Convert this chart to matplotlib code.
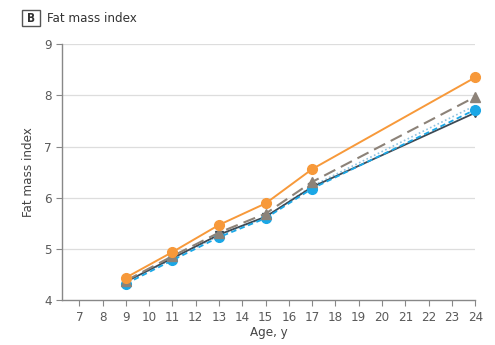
import numpy as np
import matplotlib.pyplot as plt
from matplotlib.patches import Rectangle

plt.rcParams['font.family'] = ['DejaVu Sans']
plt.rcParams['font.stretch'] = 'condensed'

ages = [9, 11, 13, 15, 17, 24]
fmi_orange = [4.44, 4.94, 5.47, 5.89, 6.56, 8.35]
fmi_gray = [4.38, 4.86, 5.32, 5.69, 6.31, 7.97]
fmi_dotted = [4.35, 4.80, 5.26, 5.62, 6.23, 7.80]
fmi_dark = [4.36, 4.82, 5.28, 5.63, 6.21, 7.66]
fmi_blue = [4.32, 4.78, 5.23, 5.60, 6.18, 7.72]

xticks = list(range(7, 25))
yticks = [4, 5, 6, 7, 8, 9]

fig = plt.figure(figsize=(4.95, 3.45), dpi=100)
ax = fig.add_axes([0.125, 0.13, 0.835, 0.742])

ax.plot(ages, fmi_dotted, color='#8fc3e0', lw=1.2, ls=(0, (1, 1.5)), zorder=3, clip_on=False)
ax.plot(ages, fmi_dark, color='#3d4a55', lw=1.3, marker='v', ms=6, zorder=3, clip_on=False)
ax.plot(ages, fmi_blue, color='#1aa7e6', lw=1.3, ls=(0, (3, 2)), marker='o', ms=7, zorder=4, clip_on=False)
ax.plot(ages, fmi_gray, color='#8c8278', lw=1.5, ls=(0, (6, 3)), marker='^', ms=7, zorder=5, clip_on=False)
ax.plot(ages, fmi_orange, color='#f7993a', lw=1.4, marker='o', ms=7, zorder=6, clip_on=False)

ax.set_xlim(6.25, 24)
ax.set_ylim(4, 9)
ax.set_xticks(xticks)
ax.set_yticks(yticks)
for y in yticks[1:]:
    ax.plot([6.25, 24], [y, y], color='#dddddd', lw=0.9, zorder=1)

for s in ['top', 'right']:
    ax.spines[s].set_visible(False)
for s in ['left', 'bottom']:
    ax.spines[s].set_color('#888888')
    ax.spines[s].set_linewidth(1.0)
ax.tick_params(labelsize=9.5, length=4, width=0.8, direction='out',
               colors='#888888', labelcolor='#5a5a5a')

ax.set_xlabel('Age, y', fontsize=9.5, color='#444444', labelpad=2)
ax.set_ylabel('Fat mass index', fontsize=9.5, color='#444444', labelpad=6)

fig.patches.append(Rectangle((22 / 495, 1 - 26 / 345), 18 / 495, 16 / 345,
                             transform=fig.transFigure, fill=False,
                             edgecolor='#555555', lw=1.0))
fig.text(31 / 495, 1 - 18 / 345, 'B', ha='center', va='center',
         fontsize=8.5, fontweight='bold', color='#333333')
fig.text(47 / 495, 1 - 18 / 345, 'Fat mass index', ha='left', va='center',
         fontsize=9.5, color='#333333')

fig.savefig('out.png', dpi=100)
